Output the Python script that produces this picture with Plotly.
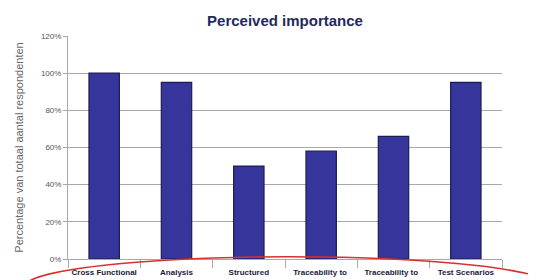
import plotly.graph_objects as go

categories = [
    "Cross Functional",
    "Analysis",
    "Structured",
    "Traceability to ",
    "Traceability to  ",
    "Test Scenarios",
]
values = [100, 95, 50, 58, 66, 95]
y_ticks = [0, 20, 40, 60, 80, 100, 120]
y_tick_labels = ["0%", "20%", "40%", "60%", "80%", "100%", "120%"]

fig = go.Figure()
fig.add_trace(go.Bar(
    x=categories, y=values,
    marker=dict(color="#35359c", line=dict(color="#1c1c55", width=1.2)),
    width=0.42,
))

# page body adds an 8px offset; margins compensate
fig.update_layout(
    width=536, height=280,
    margin=dict(l=60, r=42, t=28, b=29, autoexpand=False),
    paper_bgcolor="white", plot_bgcolor="white",
    showlegend=False,
    title=dict(text="<b>Perceived importance</b>", xref="paper", x=0.5, xanchor="center",
               y=0.955, yanchor="middle",
               font=dict(family="Liberation Sans, Arial", size=15, color="#1f2a5c")),
    font=dict(family="Liberation Sans, Arial", color="#333"),
)
fig.update_yaxes(
    range=[0, 120], tickvals=y_ticks, ticktext=y_tick_labels,
    showgrid=True, gridcolor="#a8a8a8", gridwidth=1,
    showline=True, linecolor="#a8a8a8", ticks="outside", ticklen=4, tickcolor="#a8a8a8",
    tickfont=dict(size=8, color="#555"),
    title=dict(text="Percentage van totaal aantal respondenten",
               font=dict(size=11, color="#666"), standoff=15),
    zeroline=False, automargin=False,
)
fig.update_xaxes(
    showline=True, linecolor="#a8a8a8", ticks="outside", tickson="boundaries",
    ticklen=8, tickcolor="#a8a8a8", ticklabelstandoff=5,
    tickfont=dict(size=8, color="#1a1a3a", family="Liberation Sans, Arial"),
    tickangle=0, automargin=False,
    tickprefix="<b>", ticksuffix="</b>",
)
fig.add_shape(type="circle", xref="paper", yref="paper",
              x0=-0.1, x1=1.12, y0=-0.26, y1=0.01,
              line=dict(color="#d83030", width=1.5))
fig.write_html("out.html")
